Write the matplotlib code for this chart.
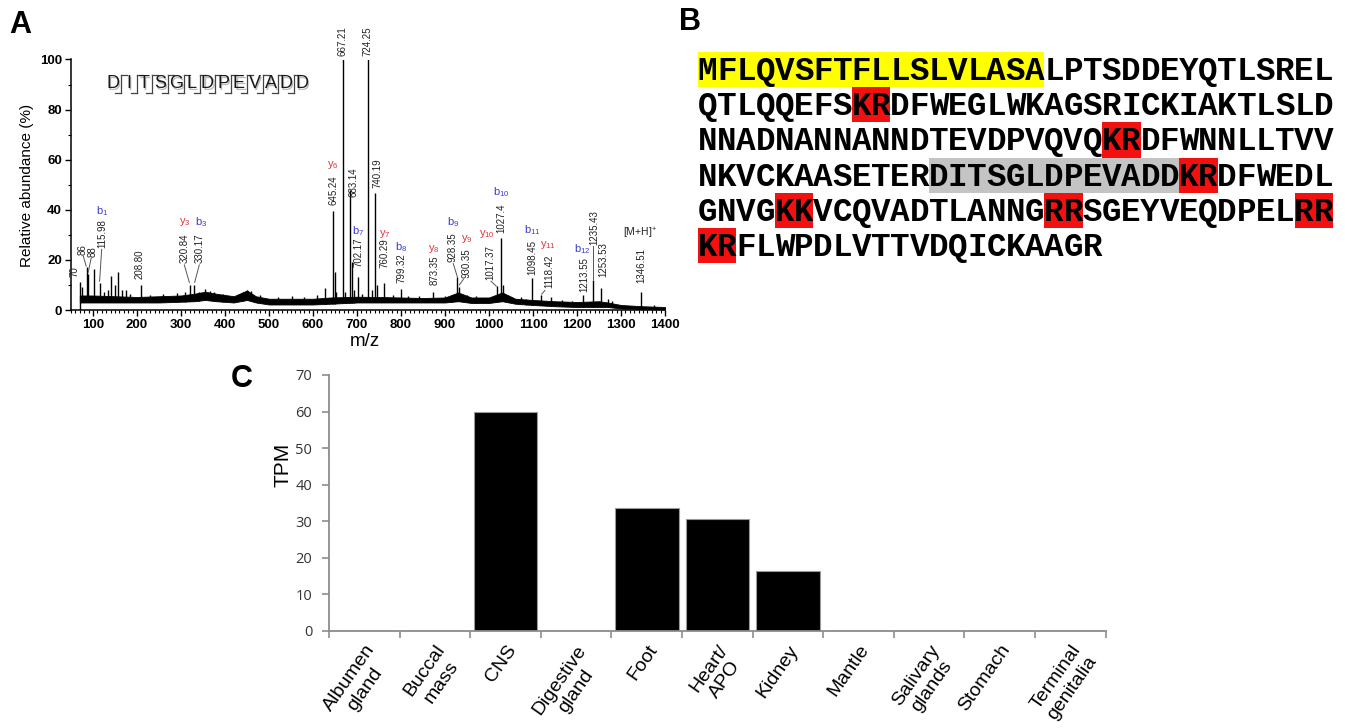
import numpy as np
import matplotlib
matplotlib.use('Agg')
import matplotlib.pyplot as plt
from matplotlib.lines import Line2D
from matplotlib.patches import Rectangle
from matplotlib.ticker import MultipleLocator
from matplotlib.transforms import ScaledTranslation

plt.rcParams['font.family'] = ['Liberation Sans', 'DejaVu Sans']
plt.rcParams['mathtext.fontset'] = 'custom'
plt.rcParams['mathtext.rm'] = 'Liberation Sans'
plt.rcParams['mathtext.it'] = 'Liberation Sans'
plt.rcParams['mathtext.bf'] = 'Liberation Sans:bold'

# ---------------- Panel A data (MS/MS spectrum) ----------------
baseline_mz = [70, 100, 150, 200, 250, 300, 330, 355, 380, 420, 450, 470, 500, 550, 600, 640,
               700, 750, 800, 850, 900, 930, 960, 1000, 1030, 1060, 1100, 1150, 1200, 1250,
               1270, 1300, 1350, 1400]
baseline_lo = [3, 3, 3, 3, 3, 3.3, 3.5, 4, 3.5, 3, 4, 3, 2.2, 2.2, 2.2, 2.5,
               3, 3, 3, 3, 3, 3.5, 2.8, 2.8, 3.5, 2.5, 2, 1.5, 1.2, 1.2,
               1.2, 0.6, 0.4, 0.2]
baseline_hi = [5.8, 5.8, 5.5, 5.2, 5.5, 5.8, 6.5, 7.3, 6.5, 5.5, 7.8, 5.5, 4.5, 4.5, 4.5, 5,
               5.3, 5.2, 5, 4.8, 5, 7, 5, 5, 7, 4.5, 4, 3.5, 3.2, 3.5,
               3, 2, 1.5, 1.2]

peak_mz = [70, 76, 86, 88, 103, 115.98, 125, 135, 142, 150, 157, 165, 176, 185, 208.8, 230, 260,
           290, 310, 320.84, 330.17, 340, 355, 365, 375, 395, 440, 450, 460, 480, 520, 553, 580,
           608, 628, 645.24, 650, 653, 667.21, 672, 683.14, 688, 694, 702.17, 712, 724.25, 733,
           740.19, 745, 760.29, 782, 799.32, 815, 840, 873.35, 900, 915, 928.35, 931, 950, 970,
           1017.37, 1027.4, 1031, 1045, 1072, 1085, 1098.45, 1118.42, 1140, 1165, 1188,
           1213.55, 1235.43, 1253.53, 1270, 1280, 1346.51, 1375]
peak_int = [11, 9, 17, 14.4, 16.4, 10.6, 7, 8, 13.6, 10, 15, 8, 8, 6.5, 10, 6, 6.2,
            6.8, 7, 10, 10, 7, 8.3, 7.5, 7, 6.5, 7, 8, 7.5, 6, 5, 5.5, 5,
            6, 8.7, 39.5, 15, 7, 100, 7, 48, 19.3, 8, 13, 6.5, 100, 8,
            46.8, 10, 10.6, 6, 8.4, 5.5, 5.5, 7.3, 5.5, 6, 13, 9, 6, 5.5,
            9.6, 28.6, 10, 5.5, 5.3, 4.5, 12.6, 6, 5, 3.8, 3.5,
            6, 12, 8.7, 4.5, 3.5, 7.3, 1.8]

mass_labels = ['70', '86', '88', '115.98', '208.80', '320.84', '330.17', '645.24', '667.21',
               '683.14', '724.25', '740.19', '702.17', '760.29', '799.32', '873.35', '928.35',
               '930.35', '1017.37', '1027.4', '1098.45', '1118.42', '1213.55', '1235.43',
               '1253.53', '1346.51']
mass_label_x = [59, 76.6, 98.4, 122, 206.8, 307.6, 341.6, 645.5, 668,
                692, 722.7, 745.5, 704.5, 762, 800, 875.7, 917.5,
                949.3, 1002, 1029, 1099, 1136.4, 1216, 1238.6,
                1259.8, 1347]
mass_label_y = [13, 22, 21.3, 24.6, 12.5, 18.6, 18.6, 42, 101.5,
                45, 101.5, 48.7, 17.3, 16.6, 10.6, 10, 19.3,
                12.7, 12, 30.6, 14, 8.7, 7.3, 26,
                13.3, 10.6]

ion_names = ['b', 'y', 'b', 'y', 'b', 'y', 'b', 'y', 'b', 'y', 'y', 'b', 'b', 'y', 'b']
ion_index = ['1', '3', '3', '6', '7', '7', '8', '8', '9', '9', '10', '10', '11', '11', '12']
ion_x = [119.8, 309, 345.5, 645.5, 703, 763.6, 800, 875.7, 917.5, 949.3, 994.8, 1029, 1099, 1134.8, 1213]
ion_y = [39.5, 35.2, 35.2, 58, 31.5, 30.5, 25, 24.2, 35.2, 28.5, 30.5, 47, 32, 25.8, 24.5]

leader_x0 = [78, 96, 119.7, 307.5, 341.6, 918.8, 941.6, 1004.5, 1127, 1235.6]
leader_y0 = [21.5, 20.8, 24.2, 18, 18, 18.5, 12.2, 11.5, 7.8, 25.5]
leader_x1 = [84.5, 89, 115, 319, 331, 928.5, 932.5, 1016.5, 1119.7, 1235.6]
leader_y1 = [17.5, 15, 11.5, 11, 11, 13, 10, 9.5, 6.3, 12.5]

peptide = 'DITSGLDPEVADD'

# ---------------- Panel B data (precursor sequence) ----------------
seq_rows = ['MFLQVSFTFLLSLVLASALPTSDDEYQTLSREL',
            'QTLQQEFSKRDFWEGLWKAGSRICKIAKTLSLD',
            'NNADNANNANNDTEVDPVQVQKRDFWNNLLTVV',
            'NKVCKAASETERDITSGLDPEVADDKRDFWEDL',
            'GNVGKKVCQVADTLANNGRRSGEYVEQDPELRR',
            'KRFLWPDLVTTVDQICKAAGR']
hl_row = [0, 1, 2, 3, 3, 4, 4, 4, 5]
hl_start = [0, 8, 21, 12, 25, 4, 18, 31, 0]
hl_end = [18, 10, 23, 25, 27, 6, 20, 33, 2]
hl_kind = ['signal', 'cleave', 'cleave', 'peptide', 'cleave', 'cleave', 'cleave', 'cleave', 'cleave']

# ---------------- Panel C data (tissue expression) ----------------
tissues = ['Albumen\ngland', 'Buccal\nmass', 'CNS', 'Digestive\ngland', 'Foot', 'Heart/\nAPO',
           'Kidney', 'Mantle', 'Salivary\nglands', 'Stomach', 'Terminal\ngenitalia']
tpm = [0, 0, 59.8, 0, 33.5, 30.7, 16.3, 0, 0, 0, 0]

# ---------------- Figure ----------------
W, H = 1345, 728
fig = plt.figure(figsize=(W / 100, H / 100), dpi=100)


def fx(px):
    return px / W


def fy(py):
    return 1 - py / H


# ---- Panel A ----
axA = fig.add_axes([fx(71), fy(310), (665 - 71) / W, (310 - 59.5) / H])
axA.set_xlim(50, 1400)
axA.set_ylim(0, 100)
axA.fill_between(baseline_mz, baseline_lo, baseline_hi, color='black', lw=0.6)
axA.vlines([baseline_mz[0]], 0, baseline_lo[0], color='black', lw=1.0)
base_at = np.interp(peak_mz, baseline_mz, baseline_lo)
axA.vlines(peak_mz, base_at, peak_int, color='black', lw=1.0)
for s in ['top', 'right']:
    axA.spines[s].set_visible(False)
for s in ['left', 'bottom']:
    axA.spines[s].set_linewidth(1.1)
axA.set_xticks(np.arange(100, 1401, 100))
axA.xaxis.set_minor_locator(MultipleLocator(10))
axA.set_yticks(np.arange(0, 101, 20))
axA.yaxis.set_minor_locator(MultipleLocator(10))
axA.tick_params(which='major', direction='out', length=4.5, width=1.0, labelsize=9.5, pad=2)
axA.tick_params(which='minor', direction='out', length=2.5, width=0.8)
for lab in axA.get_xticklabels() + axA.get_yticklabels():
    lab.set_fontweight('bold')

for t, x, y in zip(mass_labels, mass_label_x, mass_label_y):
    axA.text(x, y, t, rotation=90, ha='center', va='bottom', fontsize=7, color='#222222',
             clip_on=False)
ion_colors = {'b': '#3b3bd0', 'y': '#e0333b'}
for n, i, x, y in zip(ion_names, ion_index, ion_x, ion_y):
    axA.text(x, y, n + r'$_{' + i + '}$', ha='center', va='center', fontsize=8,
             color=ion_colors[n], clip_on=False)
axA.text(1343, 30.6, r'[M+H]$^{+}$', ha='center', va='center', fontsize=7.5, color='#222222')
for x0, y0, x1, y1 in zip(leader_x0, leader_y0, leader_x1, leader_y1):
    axA.plot([x0, x1], [y0, y1], color='#555555', lw=0.7)

fig.text(fx(27), fy(185), 'Relative abundance (%)', rotation=90, ha='center', va='center',
         fontsize=11)
fig.text(fx(365), fy(341), 'm/z', ha='center', va='center', fontsize=13.5)

# fragment ladder drawing
step = 15.75
x_first = 113
for k, ch in enumerate(peptide):
    fig.text(fx(x_first + step * k + 1), fy(85), ch, ha='center', va='center', fontsize=13,
             color='#bbbbbb')
    fig.text(fx(x_first + step * k), fy(84), ch, ha='center', va='center', fontsize=13,
             color='#1a1a1a')
for k in range(len(peptide) - 1):
    gx = x_first + step * (k + 0.5)
    fig.add_artist(Line2D([fx(gx), fx(gx)], [fy(75), fy(93)], color='#444444', lw=0.9))
    fig.add_artist(Line2D([fx(gx), fx(gx + 6)], [fy(75), fy(75)], color='#444444', lw=0.9))
    fig.add_artist(Line2D([fx(gx - 6), fx(gx)], [fy(93), fy(93)], color='#444444', lw=0.9))

# ---- Panel B ----
axB = fig.add_axes([fx(698), fy(263), 635 / W, 211 / H])
axB.set_xlim(0, 33)
axB.set_ylim(6, 0)
axB.axis('off')
kind_color = {'signal': '#ffff00', 'cleave': '#f21010', 'peptide': '#c4c4c4'}
for r, s, e, k in zip(hl_row, hl_start, hl_end, hl_kind):
    axB.add_patch(Rectangle((s, r), e - s, 1, facecolor=kind_color[k], edgecolor='none', zorder=0))
for r, row in enumerate(seq_rows):
    for i, ch in enumerate(row):
        axB.text(i + 0.5, r + 0.8, ch, ha='center', va='baseline', fontsize=23.5,
                 family='Liberation Mono', fontweight='bold', color='black')

# ---- Panel C ----
axC = fig.add_axes([fx(329), fy(630.7), (1105.7 - 329) / W, (630.7 - 375) / H])
xpos = np.arange(len(tissues))
axC.bar(xpos, tpm, width=0.9, color='black', edgecolor='#9a9a9a', linewidth=0.8)
axC.set_xlim(-0.5, len(tissues) - 0.5)
axC.set_ylim(0, 70)
for s in ['top', 'right']:
    axC.spines[s].set_visible(False)
for s in ['left', 'bottom']:
    axC.spines[s].set_color('#8c8c8c')
    axC.spines[s].set_linewidth(1.3)
axC.set_yticks(np.arange(0, 71, 10))
axC.set_xticks(np.arange(-0.5, len(tissues), 1))
axC.set_xticklabels([])
axC.set_xticks(xpos, minor=True)
axC.set_xticklabels(tissues, minor=True, rotation=55, ha='right', rotation_mode='anchor',
                    fontsize=14, multialignment='center')
shift = ScaledTranslation(-5 / 100, 3 / 100, fig.dpi_scale_trans)
for lab in axC.get_xticklabels(minor=True):
    lab.set_transform(lab.get_transform() + shift)
axC.tick_params(axis='x', which='major', direction='out', length=5, width=1.2, color='#8c8c8c')
axC.tick_params(axis='x', which='minor', length=0, pad=8)
axC.tick_params(axis='y', direction='out', length=5, width=1.2, color='#8c8c8c',
                labelsize=10.5, labelcolor='#333333', pad=7)
for lab in axC.get_yticklabels():
    lab.set_family('Open Sans')
fig.text(fx(283), fy(465), 'TPM', rotation=90, ha='center', va='center', fontsize=15)

# ---- panel letters ----
fig.text(fx(20), fy(25), 'A', ha='center', va='center', fontsize=22, fontweight='bold')
fig.text(fx(690), fy(22), 'B', ha='center', va='center', fontsize=22, fontweight='bold')
fig.text(fx(242), fy(379), 'C', ha='center', va='center', fontsize=22, fontweight='bold')

fig.savefig('out.png', dpi=100)
